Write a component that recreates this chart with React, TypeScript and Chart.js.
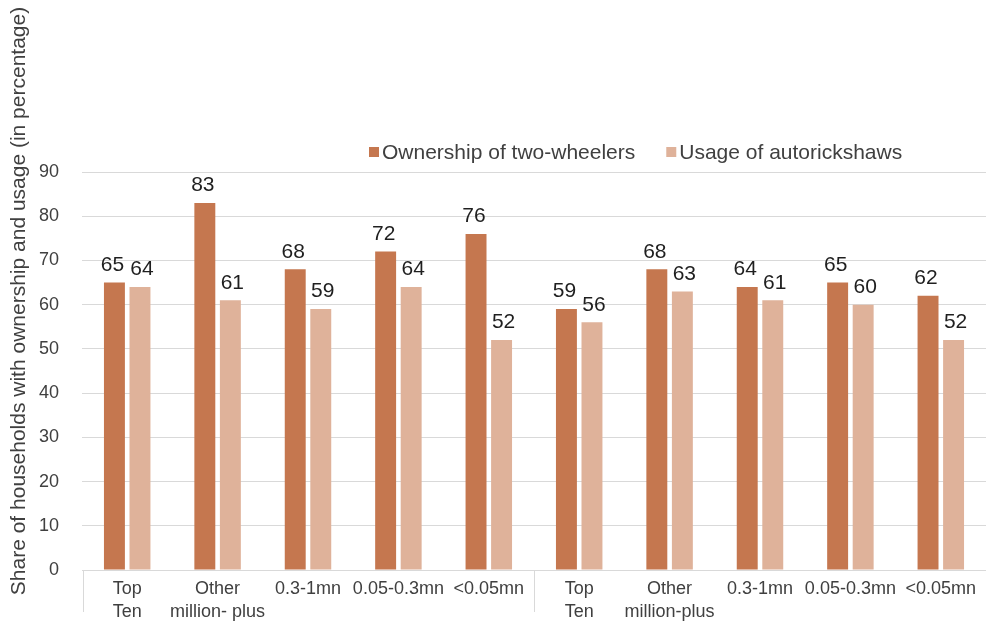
import { useEffect, useRef } from "react";
import { Chart, registerables } from "chart.js";

Chart.register(...registerables);

// City-size classes, shown twice (two survey groups side by side)
const categories: (string | string[])[] = [
  ["Top", "Ten"],
  ["Other", "million- plus"],
  "0.3-1mn",
  "0.05-0.3mn",
  "<0.05mn",
  ["Top", "Ten"],
  ["Other", "million-plus"],
  "0.3-1mn",
  "0.05-0.3mn",
  "<0.05mn",
];

const seriesNames = ["Ownership of two-wheelers", "Usage of autorickshaws"];
const ownershipTwoWheelers = [65, 83, 68, 72, 76, 59, 68, 64, 65, 62];
const usageAutorickshaws = [64, 61, 59, 64, 52, 56, 63, 61, 60, 52];
const seriesColors = ["#C5774F", "#DFB29A"];

const yMin = 0;
const yMax = 90;
const yStep = 10;
const yTitle = "Share of households with ownership and usage (in percentage)";

// index of the boundary between the two groups of five categories
const groupBoundary = 4.5;

const FONT = "'Liberation Sans', Arial, sans-serif";

const groupDividers = {
  id: "groupDividers",
  afterDraw(chart: any) {
    const { ctx } = chart;
    const x = chart.scales.x;
    const xs = [x.left + 0.5, x.getPixelForValue(groupBoundary), x.right - 0.5];
    ctx.save();
    ctx.strokeStyle = "#d9d9d9";
    ctx.lineWidth = 1;
    xs.forEach((px: number) => {
      ctx.beginPath();
      ctx.moveTo(Math.round(px) + 0.5, x.top);
      ctx.lineTo(Math.round(px) + 0.5, x.top + 42);
      ctx.stroke();
    });
    ctx.restore();
  },
};

const valueLabels = {
  id: "valueLabels",
  afterDatasetsDraw(chart: any) {
    const { ctx } = chart;
    ctx.save();
    ctx.font = `21px ${FONT}`;
    ctx.fillStyle = "#1f1f1f";
    ctx.textAlign = "center";
    ctx.textBaseline = "bottom";
    chart.data.datasets.forEach((ds: any, di: number) => {
      const meta = chart.getDatasetMeta(di);
      // nudge the two labels of a pair slightly apart
      const nudge = di === 0 ? -2 : 2;
      meta.data.forEach((bar: any, i: number) => {
        ctx.fillText(String(ds.data[i]), bar.x + nudge, bar.y - 7);
      });
    });
    ctx.restore();
  },
};

const customLegend = {
  id: "customLegend",
  afterDraw(chart: any) {
    const { ctx, chartArea } = chart;
    ctx.save();
    ctx.font = `21px ${FONT}`;
    ctx.textBaseline = "middle";
    ctx.textAlign = "left";
    const y = chartArea.top - 20;
    let x = chartArea.left + 287;
    seriesNames.forEach((name, i) => {
      ctx.fillStyle = seriesColors[i];
      ctx.fillRect(x, y - 5, 10, 10);
      ctx.fillStyle = "#404040";
      ctx.fillText(name, x + 13, y + 1);
      x += 13 + ctx.measureText(name).width + 31;
    });
    ctx.restore();
  },
};

const yAxisTitle = {
  id: "yAxisTitle",
  afterDraw(chart: any) {
    const { ctx } = chart;
    ctx.save();
    ctx.font = `21px ${FONT}`;
    ctx.fillStyle = "#404040";
    ctx.textAlign = "center";
    ctx.textBaseline = "middle";
    ctx.translate(19, 301);
    ctx.rotate(-Math.PI / 2);
    ctx.fillText(yTitle, 0, 0);
    ctx.restore();
  },
};

export default function App() {
  const canvasRef = useRef<HTMLCanvasElement | null>(null);

  useEffect(() => {
    if (!canvasRef.current) return;
    const chart = new Chart(canvasRef.current, {
      type: "bar",
      data: {
        labels: categories as any,
        datasets: [
          {
            label: seriesNames[0],
            data: ownershipTwoWheelers,
            backgroundColor: seriesColors[0],
            categoryPercentage: 0.565,
            barPercentage: 0.82,
          },
          {
            label: seriesNames[1],
            data: usageAutorickshaws,
            backgroundColor: seriesColors[1],
            categoryPercentage: 0.565,
            barPercentage: 0.82,
          },
        ],
      },
      options: {
        responsive: false,
        animation: false,
        layout: { padding: { top: 172, left: 0, right: 0, bottom: 0 } },
        plugins: {
          legend: { display: false },
          title: { display: false },
          tooltip: { enabled: false },
        },
        scales: {
          x: {
            grid: { display: false, drawTicks: false },
            border: { display: true, color: "#d9d9d9", width: 1 },
            ticks: {
              color: "#404040",
              font: { family: FONT, size: 18, lineHeight: 1.3 },
              padding: 7,
              maxRotation: 0,
              autoSkip: false,
            },
            afterFit(scale: any) {
              scale.height = 51;
            },
          },
          y: {
            min: yMin,
            max: yMax,
            grid: { color: "#d9d9d9", lineWidth: 1, drawTicks: false },
            border: { display: false },
            ticks: {
              stepSize: yStep,
              color: "#404040",
              font: { family: FONT, size: 18 },
              padding: 23,
            },
            afterFit(scale: any) {
              scale.width = 82;
            },
          },
        },
      },
      plugins: [groupDividers, valueLabels, customLegend, yAxisTitle],
    });
    return () => chart.destroy();
  }, []);

  return (
    <div style={{ position: "absolute", left: 0, top: 0, width: 986, height: 621, background: "#fff" }}>
      <canvas ref={canvasRef} width={986} height={621} />
    </div>
  );
}
